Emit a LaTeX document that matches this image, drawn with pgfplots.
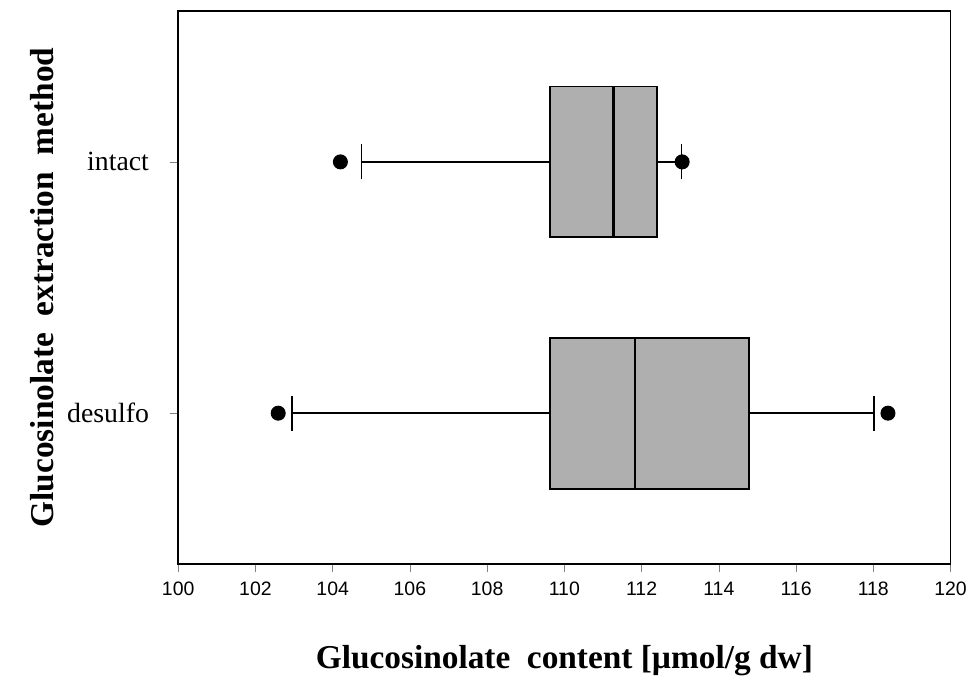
\documentclass[border=0pt]{standalone}
\usepackage{fontspec}
\setmainfont{Liberation Serif}
\newfontfamily\arial{Liberation Sans}
\usepackage{pgfplots}
\pgfplotsset{compat=1.18}
\usepgfplotslibrary{statistics}

\definecolor{boxgray}{HTML}{AFAFAF}

\begin{document}
\begin{tikzpicture}
\begin{axis}[
    width=278pt, height=199pt, scale only axis,
    xmin=100, xmax=120, ymin=0.4, ymax=2.6,
    xtick={100,102,...,120},
    ytick={1,2}, yticklabels={desulfo,intact},
    tick align=outside, tick pos=left,
    major tick length=3pt,
    axis line style={line width=0.6pt},
    /pgf/number format/assume math mode=true,
    xticklabel style={font=\arial\fontsize{7}{8}\selectfont},
    yticklabel style={font=\fontsize{10}{12}\selectfont, xshift=-4pt},
    xlabel={Glucosinolate\ \ content [µmol/g dw]},
    ylabel={Glucosinolate\ \ extraction\ \ method},
    label style={font=\bfseries\fontsize{12}{14}\selectfont},
    xlabel style={yshift=-11pt},
    ylabel style={yshift=-2pt},
    boxplot/draw direction=x,
    boxplot/box extend=0.6,
    boxplot/whisker extend=0.14,
    boxplot/every median/.style={line width=1pt},
    boxplot/every box/.style={line width=0.7pt, fill=boxgray},
    boxplot/every whisker/.style={line width=0.5pt},
]
    % desulfo
    \addplot[black, mark=*, mark size=2.5pt, mark options={fill=black},
        boxplot prepared={draw position=1,
            lower whisker=102.95, lower quartile=109.62,
            median=111.83, upper quartile=114.78, upper whisker=118.02}]
        coordinates {(0,102.59) (0,118.38)};
    % intact
    \addplot[black, mark=*, mark size=2.5pt, mark options={fill=black},
        boxplot prepared={draw position=2,
            lower whisker=104.74, lower quartile=109.62,
            median=111.27, upper quartile=112.41, upper whisker=113.03}]
        coordinates {(0,104.20) (0,113.05)};
\end{axis}
% a little room above the frame and left of the label, as in the original
\path (current axis.north) ++(0,4pt);
\path (current bounding box.west) ++(-7.5pt,0);
\end{tikzpicture}
\end{document}
